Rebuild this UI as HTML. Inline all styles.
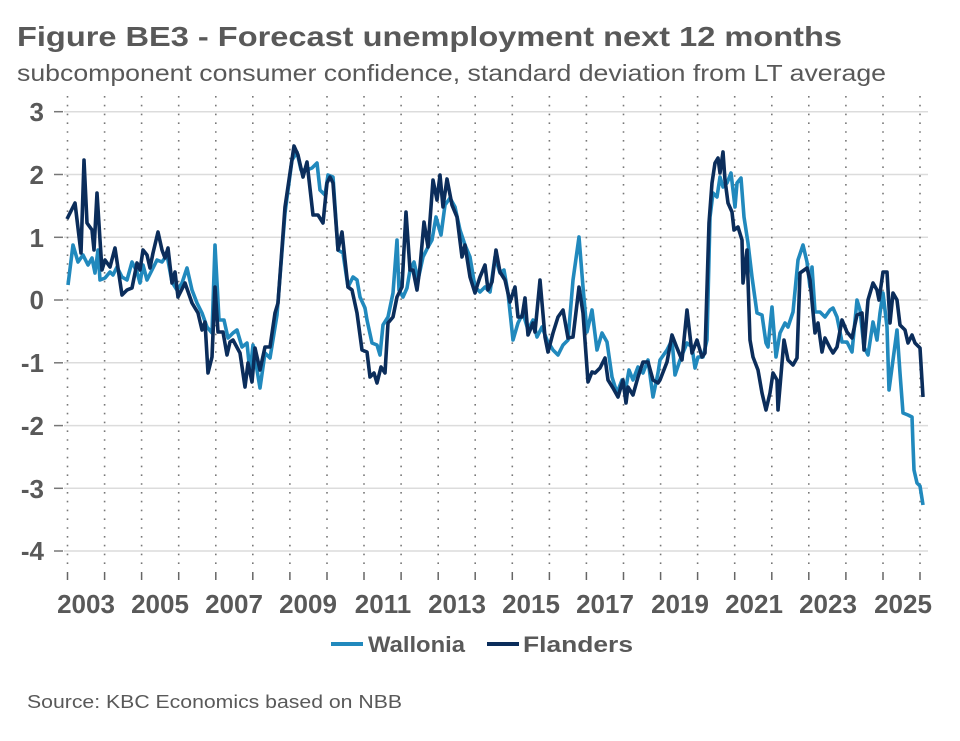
<!DOCTYPE html>
<html><head><meta charset="utf-8"><style>
body{margin:0;background:#fff;}
svg{display:block;font-family:"Liberation Sans","DejaVu Sans",sans-serif;}
</style></head><body>
<svg width="960" height="741" viewBox="0 0 960 741" xmlns="http://www.w3.org/2000/svg">
<text x="17" y="46" font-size="28" font-weight="bold" fill="#595959" textLength="825" lengthAdjust="spacingAndGlyphs">Figure BE3 - Forecast unemployment next 12 months</text>
<text x="17" y="81" font-size="23" fill="#595959" textLength="869" lengthAdjust="spacingAndGlyphs">subcomponent consumer confidence, standard deviation from LT average</text>
<g stroke="#dcdcdc" stroke-width="1.5">
<line x1="64" y1="111.7" x2="928" y2="111.7"/><line x1="64" y1="174.5" x2="928" y2="174.5"/>
<line x1="64" y1="237.3" x2="928" y2="237.3"/><line x1="64" y1="300" x2="928" y2="300"/>
<line x1="64" y1="362.8" x2="928" y2="362.8"/><line x1="64" y1="425.6" x2="928" y2="425.6"/>
<line x1="64" y1="488.3" x2="928" y2="488.3"/><line x1="64" y1="551" x2="928" y2="551"/>
</g>
<g stroke="#777" stroke-width="1.5">
<line x1="54" y1="111.7" x2="63" y2="111.7"/><line x1="54" y1="174.5" x2="63" y2="174.5"/>
<line x1="54" y1="237.3" x2="63" y2="237.3"/><line x1="54" y1="300" x2="63" y2="300"/>
<line x1="54" y1="362.8" x2="63" y2="362.8"/><line x1="54" y1="425.6" x2="63" y2="425.6"/>
<line x1="54" y1="488.3" x2="63" y2="488.3"/><line x1="54" y1="551" x2="63" y2="551"/>
</g>
<g stroke="#777" stroke-width="1.6" stroke-dasharray="1.6 7.2">
<line x1="67.5" y1="96" x2="67.5" y2="570"/><line x1="104.6" y1="96" x2="104.6" y2="570"/><line x1="141.6" y1="96" x2="141.6" y2="570"/><line x1="178.7" y1="96" x2="178.7" y2="570"/><line x1="215.8" y1="96" x2="215.8" y2="570"/><line x1="252.8" y1="96" x2="252.8" y2="570"/><line x1="289.9" y1="96" x2="289.9" y2="570"/><line x1="327" y1="96" x2="327" y2="570"/><line x1="364" y1="96" x2="364" y2="570"/><line x1="401.1" y1="96" x2="401.1" y2="570"/><line x1="438.2" y1="96" x2="438.2" y2="570"/><line x1="475.2" y1="96" x2="475.2" y2="570"/><line x1="512.3" y1="96" x2="512.3" y2="570"/><line x1="549.4" y1="96" x2="549.4" y2="570"/><line x1="586.4" y1="96" x2="586.4" y2="570"/><line x1="623.5" y1="96" x2="623.5" y2="570"/><line x1="660.6" y1="96" x2="660.6" y2="570"/><line x1="697.6" y1="96" x2="697.6" y2="570"/><line x1="734.7" y1="96" x2="734.7" y2="570"/><line x1="771.8" y1="96" x2="771.8" y2="570"/><line x1="808.8" y1="96" x2="808.8" y2="570"/><line x1="845.9" y1="96" x2="845.9" y2="570"/><line x1="883" y1="96" x2="883" y2="570"/><line x1="920" y1="96" x2="920" y2="570"/>
</g>
<g stroke="#666" stroke-width="1.5">
<path d="M67.5 572v8M104.6 572v8M141.6 572v8M178.7 572v8M215.8 572v8M252.8 572v8M289.9 572v8M327 572v8M364 572v8M401.1 572v8M438.2 572v8M475.2 572v8M512.3 572v8M549.4 572v8M586.4 572v8M623.5 572v8M660.6 572v8M697.6 572v8M734.7 572v8M771.8 572v8M808.8 572v8M845.9 572v8M883 572v8M920 572v8"/>
</g>
<g font-size="26" font-weight="bold" fill="#595959" text-anchor="end">
<text x="44" y="121">3</text><text x="44" y="184">2</text><text x="44" y="247">1</text><text x="44" y="309">0</text>
<text x="44" y="372">-1</text><text x="44" y="435">-2</text><text x="44" y="498">-3</text><text x="44" y="560">-4</text>
</g>
<g font-size="26" font-weight="bold" fill="#595959" text-anchor="middle">
<text x="86" y="613">2003</text><text x="160" y="613">2005</text><text x="234" y="613">2007</text><text x="308" y="613">2009</text>
<text x="383" y="613">2011</text><text x="457" y="613">2013</text><text x="531" y="613">2015</text><text x="605" y="613">2017</text>
<text x="680" y="613">2019</text><text x="754" y="613">2021</text><text x="828" y="613">2023</text><text x="903" y="613">2025</text>
</g>
<g fill="none" stroke-width="3.6" stroke-linejoin="round">
<polyline stroke="#2189bd" points="68,285 73,245 78,262 83,255 88,265 92,258 95,273 98,250 100,280 105,278 110,272 113,275 117,267 122,277 127,280 132,262 137,272 140,283 143,265 147,280 152,270 157,260 162,262 167,255 172,282 177,290 182,283 187,268 192,290 197,303 202,313 207,327 212,333 215,245 219,320 224,320 228,338 233,333 237,330 242,347 247,343 250,373 253,345 257,370 260,388 265,353 270,358 277,315 285,213 292,160 297,152 301,170 307,170 312,168 317,163 320,190 325,195 328,175 333,177 338,250 343,253 348,287 353,277 357,280 360,297 365,308 367,320 372,343 377,345 380,355 383,325 388,317 393,293 397,240 399,290 403,297 407,288 410,270 414,262 418,280 423,257 428,247 432,240 436,217 441,235 445,205 450,198 455,207 460,230 465,245 470,257 475,287 480,292 485,287 490,292 495,257 500,273 504,270 508,293 513,340 518,323 523,313 528,330 533,320 537,337 542,327 547,340 553,350 558,355 563,345 568,340 573,280 579,237 583,287 587,332 592,310 597,350 602,333 607,342 612,377 617,393 622,380 625,393 629,370 633,380 638,367 643,373 648,360 653,397 658,373 660,360 667,350 672,340 675,375 680,360 687,343 692,347 695,368 698,357 703,357 707,340 710,217 713,193 717,197 720,177 723,187 727,183 731,173 735,207 737,183 741,178 744,217 748,243 752,277 757,313 762,315 766,343 768,347 772,307 776,357 780,333 785,323 788,327 793,312 798,260 803,245 807,262 810,287 812,267 815,312 820,312 825,317 830,310 833,308 837,317 842,342 847,342 852,352 857,300 860,310 864,347 868,355 873,322 877,340 880,313 883,293 887,327 889,390 893,360 897,330 900,373 903,413 908,415 912,417 913,445 914,470 917,483 920,486 923,505"/>
<polyline stroke="#0b2d5b" points="67,219 75,203 81,253 84,160 87,223 92,230 94,250 97,193 100,240 102,270 105,260 110,267 115,248 122,295 127,290 132,288 137,263 140,270 143,250 147,255 150,268 153,253 158,232 162,250 165,258 168,248 172,283 175,272 178,297 185,283 192,303 198,313 202,330 205,322 208,373 212,357 215,287 218,332 223,332 227,355 230,342 233,340 240,353 245,387 248,363 252,382 255,348 260,370 265,347 270,347 275,313 278,303 285,207 290,173 294,146 298,155 303,177 307,162 313,215 318,215 323,223 327,183 330,177 333,183 338,250 342,232 345,260 348,287 352,290 357,313 362,350 367,352 370,377 374,373 377,383 381,367 385,373 388,323 393,317 397,297 402,287 406,212 410,270 413,270 417,290 420,267 424,222 428,247 433,180 437,200 440,175 443,207 447,179 452,205 457,217 462,257 465,245 470,277 475,293 478,283 480,277 485,265 488,290 492,282 496,250 500,272 505,280 510,302 515,287 518,317 522,317 525,298 528,335 533,323 535,332 540,280 545,337 548,352 553,333 558,317 563,310 568,338 573,337 579,287 583,313 588,382 592,372 595,373 600,368 605,358 608,380 613,388 618,397 623,380 626,403 628,387 633,395 638,377 643,362 648,362 653,380 658,383 660,380 667,362 672,335 677,348 682,360 687,310 692,353 697,340 702,357 705,353 709,223 712,183 715,163 718,158 720,173 723,152 725,180 728,203 732,212 734,230 738,227 742,240 743,283 747,250 750,340 753,357 758,370 762,393 766,410 770,393 773,373 777,380 778,410 782,363 784,340 788,360 793,365 797,358 800,273 807,268 810,280 815,333 818,323 822,352 825,338 830,348 833,353 837,347 842,320 847,332 852,338 857,315 862,313 864,350 868,300 873,283 877,290 879,300 883,272 887,272 890,323 893,293 897,300 900,325 905,330 908,343 912,335 915,343 920,348 923,397"/>
</g>
<line x1="331" y1="644" x2="363" y2="644" stroke="#2189bd" stroke-width="4"/>
<text x="368" y="652" font-size="22" font-weight="bold" fill="#595959" textLength="97" lengthAdjust="spacingAndGlyphs">Wallonia</text>
<line x1="487" y1="644" x2="519" y2="644" stroke="#0b2d5b" stroke-width="4"/>
<text x="523" y="652" font-size="22" font-weight="bold" fill="#595959" textLength="110" lengthAdjust="spacingAndGlyphs">Flanders</text>
<text x="27" y="708" font-size="18" fill="#595959" textLength="375" lengthAdjust="spacingAndGlyphs">Source: KBC Economics based on NBB</text>
</svg>
</body></html>
